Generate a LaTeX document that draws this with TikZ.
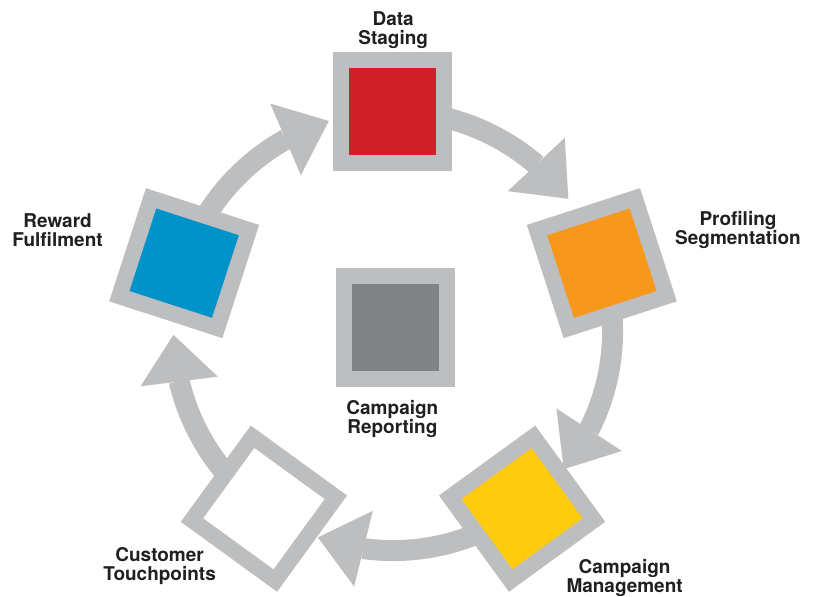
\documentclass[tikz,border=0pt]{standalone}
\usepackage{fontspec}
\setmainfont{TeX Gyre Heros}
\usetikzlibrary{arrows.meta,bending,calc,positioning}
\definecolor{ringgray}{HTML}{BCBEC0}
\definecolor{stagered}{HTML}{D02027}
\definecolor{stageorange}{HTML}{F7981D}
\definecolor{stageyellow}{HTML}{FECB0F}
\definecolor{stageblue}{HTML}{0093C9}
\definecolor{stagegray}{HTML}{808285}
\definecolor{textgray}{HTML}{231F20}
\tikzset{
  >={Triangle[length=11.75mm, width=19.5mm, line width=0pt]}
}

\begin{document}
\begin{tikzpicture}[stage/.style={rectangle,draw=ringgray,line width=4mm,minimum size=25.75mm,inner sep=0pt},
                    flow/.style={draw=ringgray,line width=5.25mm,->},
                    caption/.style={align=center,text=textgray,inner sep=0pt,font=\fontsize{13.5}{13.5}\selectfont\bfseries}]
        \useasboundingbox (-9.825, -6.65) rectangle (10.575, 8.275);

        \coordinate (P1) at (90:5.49);
        \coordinate (P2) at (18:5.49);
        \coordinate (P3) at (-54:5.49);
        \coordinate (P4) at (-126:5.49);
        \coordinate (P5) at (162:5.49);

        \draw[flow] (P1) arc[start angle=90, end angle=37, radius=5.49];
        \draw[flow] (P2) arc[start angle=18, end angle=-39, radius=5.49];
        \draw[flow] (P3) arc[start angle=-54, end angle=-110, radius=5.49];
        \draw[flow] (P4) arc[start angle=-126, end angle=-179, radius=5.49];
        \draw[flow] (P5) arc[start angle=162, end angle=107, radius=5.49];

        \node (S1) at (P1) [stage,fill=stagered] {};
        \node (S2) at (P2) [stage,fill=stageorange,rotate=-72] {};
        \node (S3) at (P3) [stage,fill=stageyellow,rotate=-144] {};
        \node (S4) at (P4) [stage,fill=white,rotate=-216] {};
        \node (S5) at (P5) [stage,fill=stageblue,rotate=-288] {};
        \node (C) at (0.0625, 0.075) [stage,fill=stagegray] {};

        \node (L1) at (0.005, 7.525) [caption] {Data\\Staging};
        \node (L2) at (8.625, 2.525) [caption] {Profiling\\Segmentation};
        \node (L3) at (5.79, -6.175) [caption] {Campaign\\Management};
        \node (L4) at (-5.835, -5.875) [caption] {Customer\\Touchpoints};
        \node (L5) at (-8.385, 2.525) [caption] {Reward\\Fulfilment};
        \node (LC) at (-0.015, -2.2) [caption] {Campaign\\Reporting};
    \end{tikzpicture}
\end{document}
